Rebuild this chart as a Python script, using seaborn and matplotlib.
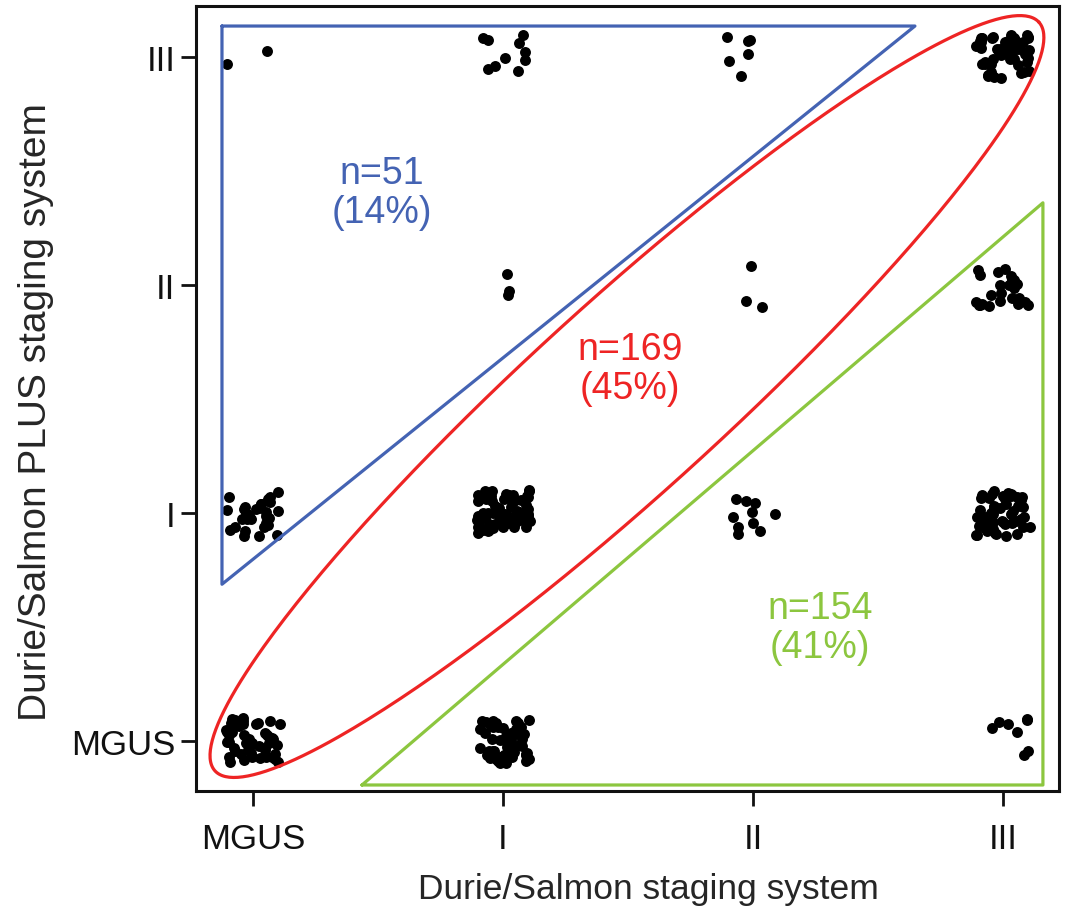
import numpy as np
import pandas as pd
import matplotlib
matplotlib.use('Agg')
import matplotlib.pyplot as plt
import seaborn as sns

# Stage categories (both axes)
stages = ['MGUS', 'I', 'II', 'III']

# Patients per cell: Durie/Salmon stage (x) vs Durie/Salmon PLUS stage (y)
ds_stage   = ['MGUS', 'MGUS', 'MGUS', 'I',    'I',  'I',  'I',   'II', 'II', 'II',  'III',  'III', 'III', 'III']
plus_stage = ['MGUS', 'I',    'III',  'MGUS', 'I',  'II', 'III', 'I',  'II', 'III', 'MGUS', 'I',   'II',  'III']
n_patients = [48,     30,     2,      58,     65,   3,    10,    10,   3,    6,     8,      54,    24,    53]

# Group annotations
group_labels = ['n=51\n(14%)', 'n=169\n(45%)', 'n=154\n(41%)']
group_colors = ['#4463b3', '#ee2424', '#8cc63f']

# expand the counts into one row per patient
rows = []
for xs, ys, n in zip(ds_stage, plus_stage, n_patients):
    rows += [(stages.index(xs), stages.index(ys))] * n
df = pd.DataFrame(rows, columns=['ds', 'plus'])

sns.set_style('ticks')
plt.rcParams['font.family'] = ['Liberation Sans', 'DejaVu Sans']

fig = plt.figure(figsize=(10.68, 9.12), dpi=100)
ax = fig.add_axes([0.1835, 0.1316, 0.808, 0.8607])

np.random.seed(11)  # fixed jitter
sns.regplot(data=df, x='ds', y='plus', fit_reg=False, x_jitter=0.11, y_jitter=0.10,
            color='black', scatter_kws=dict(s=62, linewidths=0, alpha=1), ax=ax)

ax.set_xlim(-0.228, 3.224)
ax.set_ylim(-0.219, 3.224)
ax.set_xticks(range(4))
ax.set_xticklabels(stages)
ax.set_yticks(range(4))
ax.set_yticklabels(stages)
ax.tick_params(direction='out', length=11, width=2, labelsize=25, colors='#111111')
ax.tick_params(axis='x', pad=11)
ax.tick_params(axis='y', pad=4)
for s in ax.spines.values():
    s.set_visible(True)
    s.set_linewidth(2.2)
    s.set_color('#111111')

ax.set_xlabel('Durie/Salmon staging system', fontsize=25.5)
ax.set_ylabel('Durie/Salmon PLUS staging system', fontsize=28)
ax.xaxis.set_label_coords(0.524, -0.103)
ax.yaxis.set_label_coords(-0.165, 0.484)

# pixel -> data helpers for the region outlines
def px(x):
    return (x - 253) / 250.0

def py(y):
    return (742 - y) / 228.3

# blue triangle (PLUS stage higher)
bx = [222, 915, 222, 222]
by = [26, 26, 585, 26]
ax.plot([px(v) for v in bx], [py(v) for v in by], color=group_colors[0], lw=2.3, clip_on=False)

# green triangle (PLUS stage lower)
gx = [362, 1043, 1043, 362]
gy = [786, 786, 203, 786]
ax.plot([px(v) for v in gx], [py(v) for v in gy], color=group_colors[2], lw=2.3, clip_on=False)

# red ellipse (same stage)
t = np.linspace(0, 2 * np.pi, 400)
ang = np.deg2rad(42.3)
a, b = 557, 95.5
ex = 627 + a * np.cos(t) * np.cos(ang) + b * np.sin(t) * np.sin(ang)
ey = 397 - a * np.cos(t) * np.sin(ang) + b * np.sin(t) * np.cos(ang)
ax.plot(px(ex), py(ey), color=group_colors[1], lw=2.3, clip_on=False)

# group labels
text_pos = [(382, 193), (630, 369), (820, 628)]
for lab, col, (tx, ty) in zip(group_labels, group_colors, text_pos):
    ax.text(px(tx), py(ty), lab, color=col, fontsize=27, ha='center', va='center',
            linespacing=1.1)

fig.savefig('out.png', dpi=100)
